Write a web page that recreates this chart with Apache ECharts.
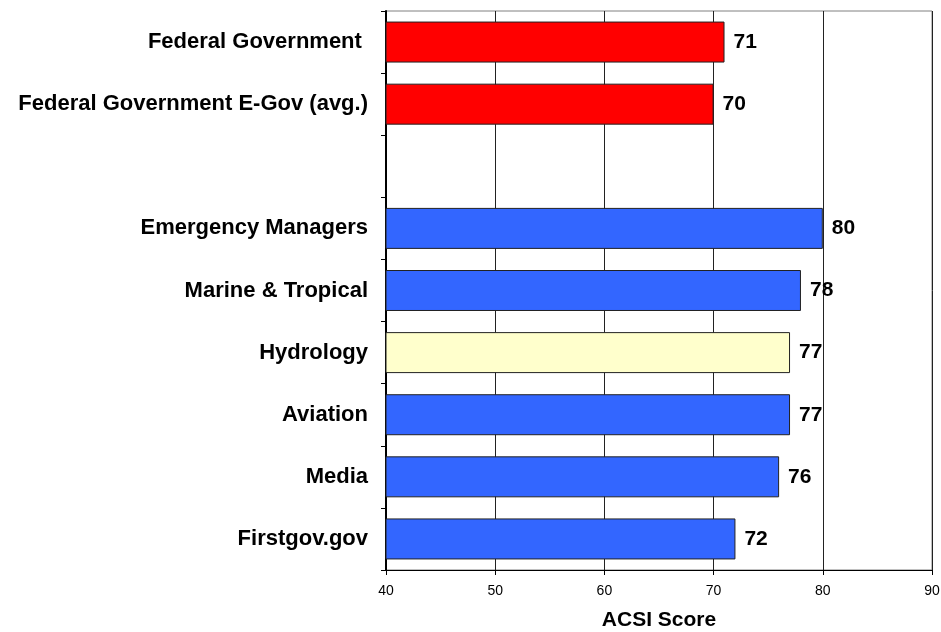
<!DOCTYPE html>
<html>
<head>
    <meta charset="UTF-8">
    <title></title>
    <script src="https://cdn.jsdelivr.net/npm/echarts@6/dist/echarts.min.js"></script>
    <style>
        *{margin:0;padding:0;}
        body,html{ width:941px; height:632px; background:#fff; }
        #main{ width:941px; height:632px; }
    </style>
</head>
<body>
<div id="main"></div>
<script>
    // categories, top to bottom (blank row is a spacer)
    var categories = ['Federal Government ', 'Federal Government E-Gov (avg.)', '', 'Emergency Managers',
        'Marine & Tropical', 'Hydrology', 'Aviation', 'Media', 'Firstgov.gov'];
    var scores = [71, 70, null, 80, 78, 77, 77, 76, 72];
    var barColors = ['#FF0000', '#FF0000', '#FFFFFF', '#3366FF', '#3366FF', '#FFFFCC', '#3366FF', '#3366FF', '#3366FF'];

    var seriesData = [];
    for (var i = 0; i < scores.length; i++) {
        seriesData.push({
            value: scores[i],
            itemStyle: { color: barColors[i] }
        });
    }

    var myChart = echarts.init(document.getElementById('main'));
    myChart.setOption({
        animation: false,
        grid: {
            left: 386, right: 9, top: 11, bottom: 62,
            containLabel: false,
            outerBoundsMode: 'none',
            show: true, borderColor: '#808080', borderWidth: 1
        },
        xAxis: {
            type: 'value',
            min: 40, max: 90, interval: 10,
            name: 'ACSI Score',
            nameLocation: 'middle',
            nameGap: 40,
            nameTextStyle: { fontFamily: 'Liberation Sans', fontWeight: 'bold', fontSize: 21, color: '#000' },
            axisLine: { show: true, lineStyle: { color: '#000' } },
            axisTick: { show: true, length: 5, lineStyle: { color: '#000' } },
            axisLabel: { fontFamily: 'Liberation Sans', fontSize: 14, color: '#000', margin: 14 },
            splitLine: { show: true, lineStyle: { color: '#222', width: 1 } }
        },
        yAxis: {
            type: 'category',
            inverse: true,
            data: categories,
            axisLine: { show: true, lineStyle: { color: '#000', width: 2 } },
            axisTick: { show: true, length: 5, alignWithLabel: false, lineStyle: { color: '#000' } },
            axisLabel: { fontFamily: 'Liberation Sans', fontWeight: 'bold', fontSize: 22, color: '#000', margin: 18 },
            splitLine: { show: false }
        },
        series: [{
            type: 'bar',
            data: seriesData,
            barCategoryGap: '34%',
            itemStyle: { borderColor: '#222', borderWidth: 1 },
            label: {
                show: true,
                position: 'right',
                distance: 9,
                fontFamily: 'Liberation Sans',
                fontWeight: 'bold',
                fontSize: 21,
                color: '#000'
            }
        }]
    });
</script>
</body>
</html>
